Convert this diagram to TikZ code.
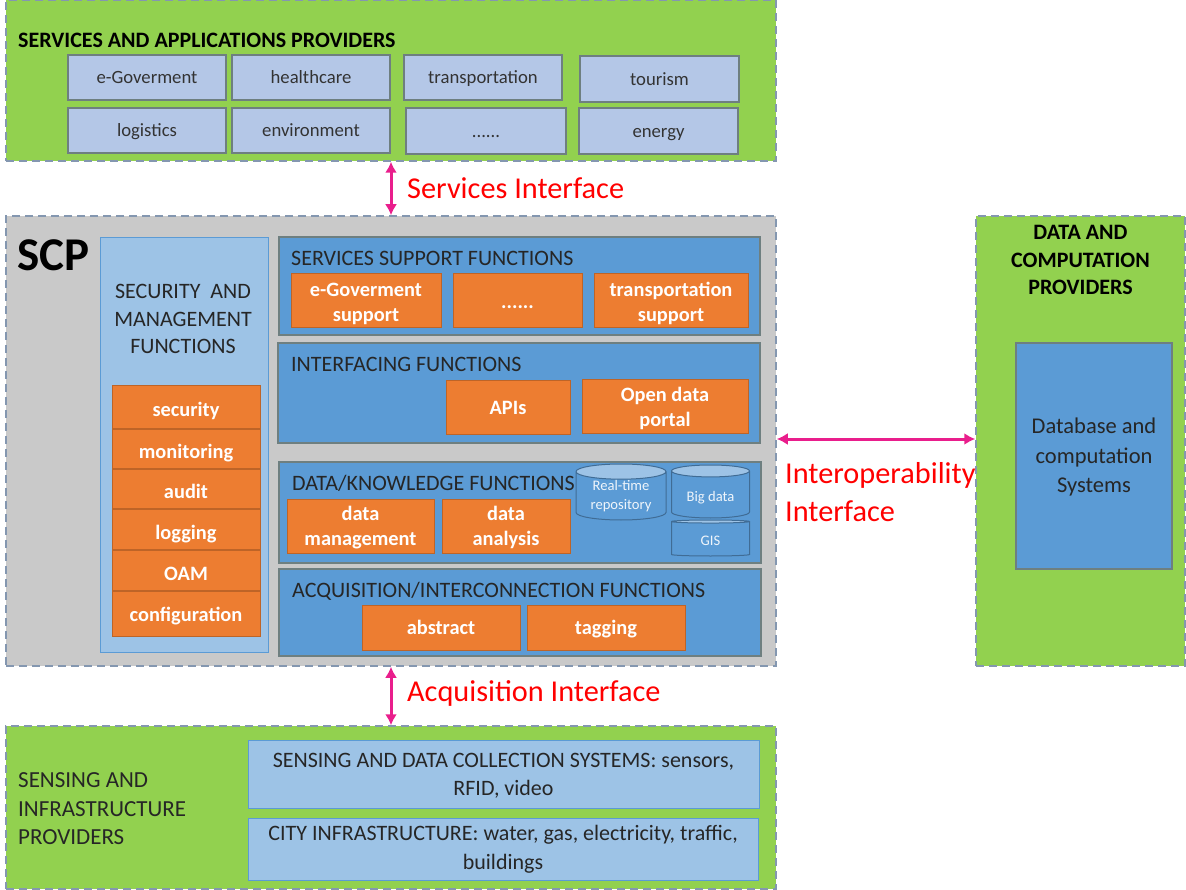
\documentclass[tikz,border=0pt]{standalone}
\usepackage{fontspec}
\setmainfont{Carlito}
\usepackage{xcolor}
\usetikzlibrary{arrows.meta,shapes.geometric}
\definecolor{provgreen}{HTML}{92D14F}
\definecolor{dashgray}{HTML}{8497B0}
\definecolor{scpgray}{HTML}{C9C9C9}
\definecolor{tileblue}{HTML}{B4C7E7}
\definecolor{lightblue}{HTML}{9DC3E6}
\definecolor{midblue}{HTML}{5B9BD5}
\definecolor{fnorange}{HTML}{ED7D31}
\definecolor{edgegray}{HTML}{6E7F80}
\definecolor{ifpink}{HTML}{E91E8C}

\begin{document}
\begin{tikzpicture}[x=1pt,y=-1pt,
  provider/.style={draw=dashgray, line width=1.5pt, dash pattern=on 8pt off 5pt, fill=provgreen, inner sep=0pt},
  tile/.style={draw=edgegray, line width=1.5pt, fill=tileblue, minimum width=158pt, minimum height=45pt, inner sep=0pt, align=center, text height=13pt, text depth=0pt, font=\fontsize{18.7}{22}\selectfont, text=black!80},
  fnpanel/.style={draw=edgegray, line width=1.5pt, fill=midblue, minimum width=481pt, inner sep=0pt},
  fnbox/.style={draw=fnorange!80!black, line width=.5pt, fill=fnorange, inner sep=0pt, align=center, font=\fontsize{20.4}{25}\selectfont\bfseries, text=white},
  fnone/.style={fnbox, text height=14pt, text depth=0pt},
  secbox/.style={fnbox, minimum width=148pt, text height=20pt, text depth=0pt},
  lines/.style={text height=#1, text depth=0pt},
  store/.style={cylinder, shape border rotate=90, anchor=shape center, draw=midblue!70!black, line width=1pt, cylinder uses custom fill, cylinder body fill=midblue, cylinder end fill=lightblue, inner sep=0pt, align=center, text=white!90!midblue, font=\fontsize{14.6}{19}\selectfont},
  title/.style={anchor=west, inner sep=0pt, font=\fontsize{22}{24}\selectfont, text=black!85},
  ifarrow/.style={{Latex[length=11pt,width=12pt]}-{Latex[length=11pt,width=12pt]}, line width=3pt, draw=ifpink},
  iflabel/.style={anchor=west, inner sep=0pt, align=left, font=\fontsize{30.3}{38}\selectfont, text=red}
]
\useasboundingbox (0,0) rectangle (1186,890);

% provider panels
\node[provider, minimum width=770pt, minimum height=161pt] (apps) at (391,80.5) {};
\node[provider, fill=scpgray, minimum width=770pt, minimum height=450pt] (scp) at (391,441) {};
\node[provider, minimum width=209pt, minimum height=450pt] (datacomp) at (1080.5,441) {};
\node[provider, minimum width=770pt, minimum height=163pt] (sensing) at (391,807.5) {};

% services and applications
\node[title, font=\fontsize{22}{24}\selectfont\bfseries, text=black] (appstitle) at (18,40) {SERVICES AND APPLICATIONS PROVIDERS};
\node[tile] (egov) at (147,77.5) {e-Goverment};
\node[tile] (health) at (311,77.5) {healthcare};
\node[tile] (transport) at (483,77.5) {transportation};
\node[tile, minimum height=46pt, minimum width=159pt] (tourism) at (659.5,79) {tourism};
\node[tile] (logistics) at (147,130.5) {logistics};
\node[tile] (environ) at (311,130.5) {environment};
\node[tile, minimum width=160pt, minimum height=46pt] (dots) at (486,131) {......};
\node[tile, minimum width=159pt, minimum height=46pt] (energy) at (658.5,131) {energy};

% SCP
\node[anchor=west, inner sep=0pt, font=\fontsize{47}{50}\selectfont\bfseries] (scplabel) at (17,255) {SCP};
\node[draw=midblue, line width=1pt, fill=lightblue, minimum width=168pt, minimum height=414pt, inner sep=0pt] (secpanel) at (184,445) {};
\node[align=center, inner sep=0pt, font=\fontsize{22}{27.5}\selectfont, text=black!85] (sectitle) at (183,319) {SECURITY~ AND\\MANAGEMENT\\FUNCTIONS};
\node[secbox, minimum height=43pt] (security) at (186,406.5) {security};
\node[secbox, minimum height=39pt] (monitor) at (186,448.5) {monitoring};
\node[secbox, minimum height=39pt] (audit) at (186,488.5) {audit};
\node[secbox, minimum height=40pt] (logging) at (186,529) {logging};
\node[secbox, minimum height=40pt] (oam) at (186,570) {OAM};
\node[secbox, text height=16pt, minimum height=45pt] (config) at (186,613.5) {configuration};

\node[fnpanel, minimum height=98pt] (support) at (519.5,286) {};
\node[title] (supporttitle) at (291,258) {SERVICES SUPPORT FUNCTIONS};
\node[fnbox, lines=43pt, minimum width=150pt, minimum height=54pt] (egovsup) at (366,300) {e-Goverment\\support};
\node[fnbox, text height=18pt, text depth=0pt, minimum width=129pt, minimum height=54pt] (dotssup) at (517.5,300) {......};
\node[fnbox, lines=43pt, minimum width=154pt, minimum height=54pt] (transup) at (671,300) {transportation\\support};

\node[fnpanel, minimum width=482pt, minimum height=100pt] (interfacing) at (519,393) {};
\node[title] (interfacingtitle) at (291,364) {INTERFACING FUNCTIONS};
\node[fnone, minimum width=124pt, minimum height=54pt] (apis) at (508,407) {APIs};
\node[fnbox, lines=41pt, minimum width=166pt, minimum height=54pt] (opendata) at (665,406) {Open data\\portal};

\node[fnpanel, minimum width=482pt, minimum height=101pt] (knowledge) at (520,512.5) {};
\node[title] (knowledgetitle) at (292,483) {DATA/KNOWLEDGE FUNCTIONS};
\node[fnbox, lines=39pt, minimum width=147pt, minimum height=54pt] (datamgmt) at (360.5,526) {data\\management};
\node[fnbox, lines=39pt, minimum width=128pt, minimum height=54pt] (dataana) at (506,526) {data\\analysis};
\node[store, minimum width=90pt, minimum height=56pt, shape aspect=.25] (realtime) at (621,492) {Real-time\\repository};
\node[store, lines=13pt, minimum width=78pt, minimum height=53pt, shape aspect=.25] (bigdata) at (710.5,491.5) {Big data};
\node[store, lines=13pt, minimum width=78pt, minimum height=36pt, shape aspect=.155] (gis) at (710.5,538) {GIS};

\node[fnpanel, minimum width=482pt, minimum height=87pt] (acquisition) at (520,612.5) {};
\node[title] (acquisitiontitle) at (292,591) {ACQUISITION/INTERCONNECTION FUNCTIONS};
\node[fnone, minimum width=158pt, minimum height=45pt] (abstract) at (441,627.5) {abstract};
\node[fnone, minimum width=158pt, minimum height=45pt] (tagging) at (606,627.5) {tagging};

% data and computation
\node[align=center, inner sep=0pt, font=\fontsize{22}{27.5}\selectfont\bfseries] (datatitle) at (1080.5,260) {DATA AND\\COMPUTATION\\PROVIDERS};
\node[draw=edgegray, line width=1.5pt, fill=midblue, lines=73pt, minimum width=156pt, minimum height=226pt, inner sep=0pt, align=center, font=\fontsize{22.5}{29.5}\selectfont, text=black!85] (database) at (1094,456) {Database and\\computation\\Systems};

% sensing and infrastructure
\node[anchor=west, inner sep=0pt, align=left, font=\fontsize{23}{28.5}\selectfont, text=black!85] (sensingtitle) at (18,809) {SENSING AND\\INFRASTRUCTURE\\PROVIDERS};
\node[draw=midblue, line width=1pt, fill=lightblue, lines=42pt, minimum width=511pt, minimum height=68pt, inner sep=0pt, align=center, font=\fontsize{22}{28}\selectfont, text=black!85] (collect) at (503.5,774) {SENSING AND DATA COLLECTION SYSTEMS: sensors,\\RFID, video};
\node[draw=midblue, line width=1pt, fill=lightblue, lines=41pt, minimum width=510pt, minimum height=62pt, inner sep=0pt, align=center, font=\fontsize{22}{29}\selectfont, text=black!85] (cityinfra) at (503,849) {CITY INFRASTRUCTURE: water, gas, electricity, traffic,\\buildings};

% interfaces
\draw[ifarrow] (apps.south) -- (scp.north);
\draw[ifarrow] (scp.south) -- (sensing.north);
\draw[ifarrow] ([yshift=2pt]scp.east) -- ([yshift=2pt]datacomp.west);
\node[iflabel] (serviceslabel) at (407,188) {Services Interface};
\node[iflabel] (acquisitionlabel) at (407,693) {Acquisition Interface};
\node[iflabel] (interoplabel) at (785,492) {Interoperability\\Interface};
\end{tikzpicture}
\end{document}
